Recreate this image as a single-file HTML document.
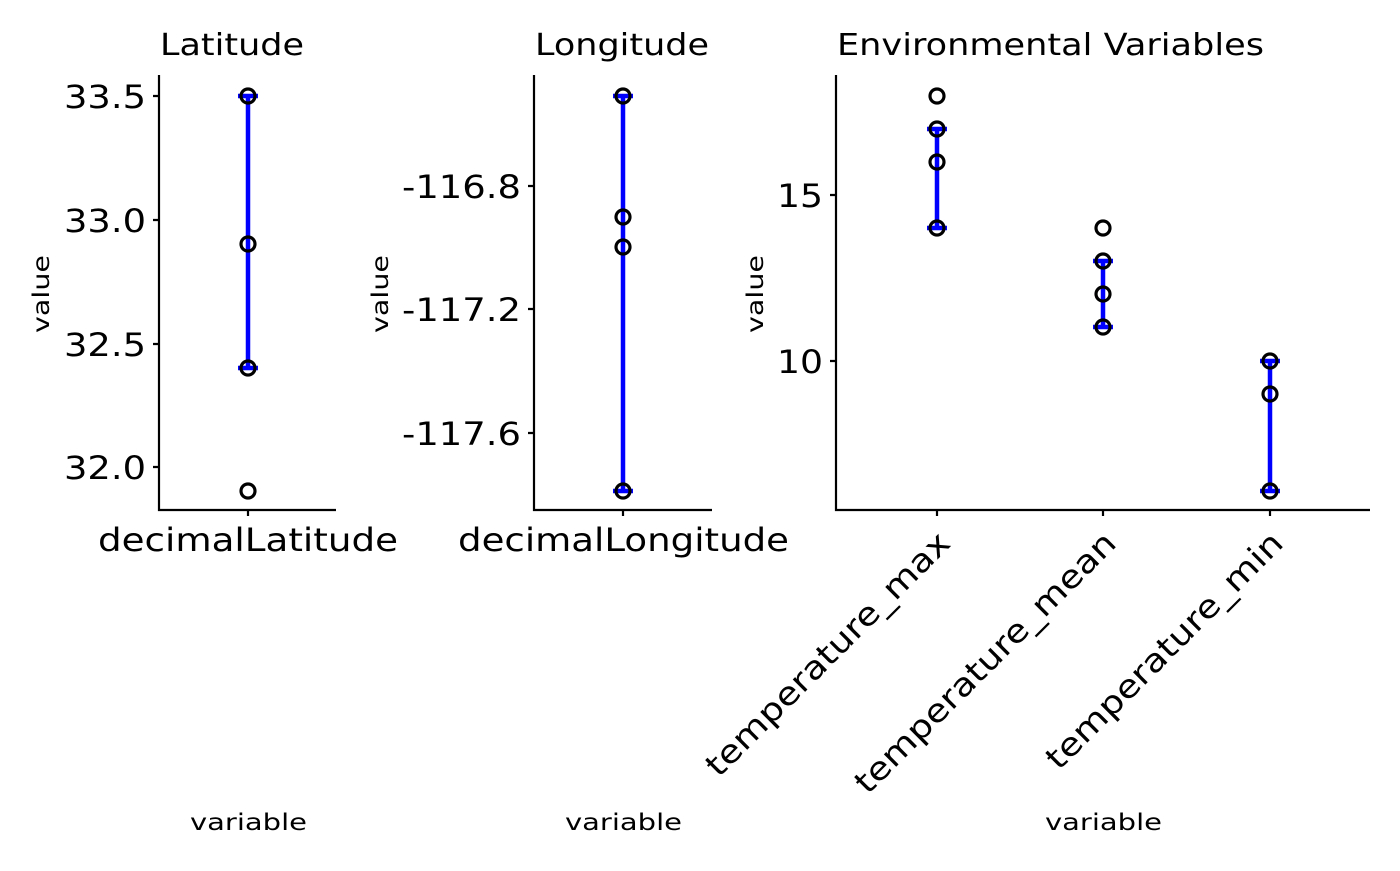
<!DOCTYPE html>
<html><head><meta charset="utf-8"><style>html,body{margin:0;padding:0;background:#fff}</style></head>
<body>
<svg width="1400" height="866" xmlns="http://www.w3.org/2000/svg" font-family="DejaVu Sans, Liberation Sans, sans-serif">
<g stroke="#000" stroke-width="2.2" fill="none">
<path d="M159,75 V510 H336"/>
<path d="M153,96 H159 M153,220 H159 M153,344 H159 M153,467 H159 M248,510 V516"/>
<path d="M534,75 V510 H712"/>
<path d="M528,186 H534 M528,309 H534 M528,433 H534 M623,510 V516"/>
<path d="M836,75 V510 H1370"/>
<path d="M830,195 H836 M830,361 H836 M937,510 V516 M1103,510 V516 M1270,510 V516"/>
</g>
<g fill="#000" font-size="32">
<text x="64" y="108" textLength="82" lengthAdjust="spacingAndGlyphs">33.5</text>
<text x="64" y="232" textLength="82" lengthAdjust="spacingAndGlyphs">33.0</text>
<text x="64" y="356" textLength="82" lengthAdjust="spacingAndGlyphs">32.5</text>
<text x="64" y="479" textLength="82" lengthAdjust="spacingAndGlyphs">32.0</text>
<text x="402" y="198" textLength="119" lengthAdjust="spacingAndGlyphs">-116.8</text>
<text x="402" y="321" textLength="119" lengthAdjust="spacingAndGlyphs">-117.2</text>
<text x="402" y="445" textLength="119" lengthAdjust="spacingAndGlyphs">-117.6</text>
<text x="777" y="207" textLength="46" lengthAdjust="spacingAndGlyphs">15</text>
<text x="777" y="373" textLength="46" lengthAdjust="spacingAndGlyphs">10</text>
<text x="98" y="551" textLength="300" lengthAdjust="spacingAndGlyphs">decimalLatitude</text>
<text x="458" y="551" textLength="331" lengthAdjust="spacingAndGlyphs">decimalLongitude</text>
</g>
<g fill="#000" font-size="32" text-anchor="end">
<text transform="translate(952,545) rotate(-45)" textLength="330" lengthAdjust="spacingAndGlyphs">temperature_max</text>
<text transform="translate(1118,545) rotate(-45)" textLength="354" lengthAdjust="spacingAndGlyphs">temperature_mean</text>
<text transform="translate(1285,545) rotate(-45)" textLength="320" lengthAdjust="spacingAndGlyphs">temperature_min</text>
</g>
<g fill="#000" font-size="30">
<text x="160" y="55" textLength="144" lengthAdjust="spacingAndGlyphs">Latitude</text>
<text x="535" y="55" textLength="174" lengthAdjust="spacingAndGlyphs">Longitude</text>
<text x="837" y="55" textLength="427" lengthAdjust="spacingAndGlyphs">Environmental Variables</text>
</g>
<g fill="#000" font-size="23">
<text x="190" y="830" textLength="117" lengthAdjust="spacingAndGlyphs">variable</text>
<text x="565" y="830" textLength="117" lengthAdjust="spacingAndGlyphs">variable</text>
<text x="1045" y="830" textLength="117" lengthAdjust="spacingAndGlyphs">variable</text>
<text transform="translate(49,333) rotate(-90)" textLength="78" lengthAdjust="spacingAndGlyphs">value</text>
<text transform="translate(388,333) rotate(-90)" textLength="78" lengthAdjust="spacingAndGlyphs">value</text>
<text transform="translate(763,333) rotate(-90)" textLength="78" lengthAdjust="spacingAndGlyphs">value</text>
</g>
<g stroke="#0000ff" stroke-width="4.5" fill="none">
<path d="M248,96 V368 M238,96 H258 M238,368 H258"/>
<path d="M623,96 V491 M613,96 H633 M613,491 H633"/>
<path d="M937,129 V228 M927,129 H947 M927,228 H947"/>
<path d="M1103,261 V327 M1093,261 H1113 M1093,327 H1113"/>
<path d="M1270,361 V491 M1260,361 H1280 M1260,491 H1280"/>
</g>
<g stroke="#000" stroke-width="3.2" fill="none">
<circle cx="248" cy="96" r="7"/><circle cx="248" cy="244" r="7"/><circle cx="248" cy="368" r="7"/><circle cx="248" cy="491" r="7"/>
<circle cx="623" cy="96" r="7"/><circle cx="623" cy="217" r="7"/><circle cx="623" cy="247" r="7"/><circle cx="623" cy="491" r="7"/>
<circle cx="937" cy="96" r="7"/><circle cx="937" cy="129" r="7"/><circle cx="937" cy="162" r="7"/><circle cx="937" cy="228" r="7"/>
<circle cx="1103" cy="228" r="7"/><circle cx="1103" cy="261" r="7"/><circle cx="1103" cy="294" r="7"/><circle cx="1103" cy="327" r="7"/>
<circle cx="1270" cy="361" r="7"/><circle cx="1270" cy="394" r="7"/><circle cx="1270" cy="491" r="7"/>
</g>
</svg>
</body></html>
